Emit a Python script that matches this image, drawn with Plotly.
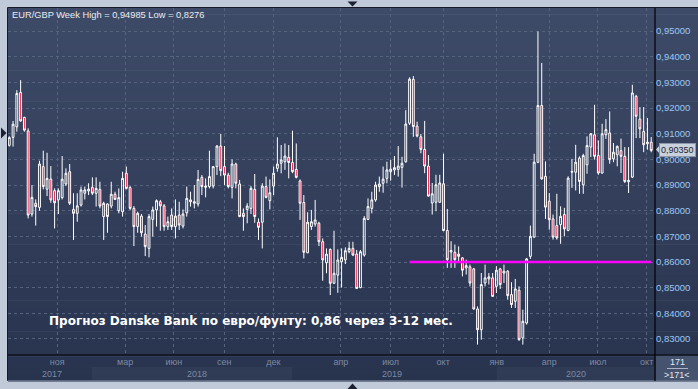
import plotly.graph_objects as go

# ---------------- data (weekly EUR/GBP candles) ----------------
opens = [0.9055, 0.9086, 0.9127, 0.9261, 0.9164, 0.9111, 0.8787, 0.8829, 0.8813, 0.8972,
         0.8884, 0.8923, 0.8878, 0.8842, 0.8851, 0.8904, 0.8952, 0.8805, 0.8790, 0.8822,
         0.8868, 0.8877, 0.8891, 0.8868, 0.8883, 0.8777, 0.8826, 0.8818, 0.8864, 0.8800,
         0.8796, 0.8946, 0.8890, 0.8809, 0.8738, 0.8779, 0.8709, 0.8653, 0.8766, 0.8803,
         0.8835, 0.8819, 0.8738, 0.8783, 0.8738, 0.8783, 0.8740, 0.8792, 0.8842, 0.8829,
         0.8826, 0.8930, 0.8891, 0.8894, 0.8896, 0.8972, 0.9052, 0.8972, 0.8939, 0.8891,
         0.8982,
         0.8904, 0.8790, 0.8805, 0.8809, 0.8883, 0.8755, 0.8755, 0.8894, 0.8839, 0.8896,
         0.8965, 0.8985, 0.8991, 0.9008, 0.8988, 0.8961, 0.8916, 0.8832, 0.8636, 0.8738,
         0.8748, 0.8751, 0.8679, 0.8597, 0.8649, 0.8517, 0.8549, 0.8601, 0.8608, 0.8640,
         0.8653, 0.8631, 0.8500, 0.8627, 0.8766, 0.8809, 0.8842, 0.8894, 0.8907, 0.8926,
         0.8952, 0.8959, 0.8961, 0.8969, 0.8991, 0.9141, 0.9312, 0.9130, 0.9088, 0.9039,
         0.8974,
         0.8830, 0.8833, 0.8833, 0.8905, 0.8723, 0.8639, 0.8638, 0.8631, 0.8616, 0.8577,
         0.8581, 0.8573, 0.8417, 0.8336, 0.8518, 0.8534, 0.8538, 0.8505, 0.8573, 0.8557,
         0.8564, 0.8473, 0.8447, 0.8490, 0.8304, 0.8362, 0.8622, 0.8697, 0.8989, 0.9210,
         0.8934, 0.8837, 0.8768, 0.8742, 0.8746, 0.8785, 0.8723, 0.8950, 0.8950, 0.9005,
         0.8901, 0.8979, 0.9048, 0.9096, 0.9015, 0.8947, 0.9096, 0.9103, 0.9002, 0.9018,
         0.9034, 0.9012, 0.8913, 0.8931, 0.9246, 0.9157, 0.9109, 0.9061, 0.9067]
highs = [0.9090, 0.9150, 0.9270, 0.9309, 0.9166, 0.9121, 0.8900, 0.8844, 0.8995, 0.9034,
         0.9026, 0.8974, 0.8887, 0.8887, 0.9013, 0.8965, 0.8982, 0.8868, 0.8868, 0.8894,
         0.8894, 0.8907, 0.8930, 0.8930, 0.8913, 0.8835, 0.8829, 0.8913, 0.8874, 0.8887,
         0.8952, 0.8972, 0.8896, 0.8818, 0.8796, 0.8787, 0.8744, 0.8787, 0.8816, 0.8844,
         0.8842, 0.8826, 0.8777, 0.8809, 0.8844, 0.8835, 0.8805, 0.8894, 0.8874, 0.8900,
         0.8959, 0.8939, 0.8926, 0.9034, 0.8974, 0.9056, 0.9099, 0.9052, 0.8948, 0.9000,
         0.8987,
         0.8920, 0.8809, 0.8829, 0.8896, 0.8943, 0.8770, 0.8907, 0.8933, 0.8922, 0.8972,
         0.9086, 0.9056, 0.9062, 0.9056, 0.9112, 0.9062, 0.8922, 0.8861, 0.8794, 0.8803,
         0.8842, 0.8757, 0.8692, 0.8653, 0.8653, 0.8722, 0.8649, 0.8653, 0.8657, 0.8679,
         0.8679, 0.8647, 0.8647, 0.8779, 0.8848, 0.8874, 0.8913, 0.8933, 0.8972, 0.8991,
         0.8998, 0.9013, 0.9052, 0.9010, 0.9192, 0.9320, 0.9325, 0.9147, 0.9099, 0.9150,
         0.9017,
         0.8908, 0.8940, 0.8940, 0.9022, 0.8807, 0.8681, 0.8668, 0.8661, 0.8619, 0.8609,
         0.8590, 0.8577, 0.8427, 0.8557, 0.8590, 0.8557, 0.8557, 0.8584, 0.8577, 0.8590,
         0.8568, 0.8521, 0.8534, 0.8505, 0.8414, 0.8616, 0.8742, 0.9022, 0.9499, 0.9376,
         0.8992, 0.8869, 0.8785, 0.8866, 0.8817, 0.8811, 0.8934, 0.9002, 0.9057, 0.9012,
         0.9022, 0.9090, 0.9103, 0.9213, 0.9074, 0.9139, 0.9157, 0.9187, 0.9064, 0.9054,
         0.9081, 0.9048, 0.9048, 0.9291, 0.9252, 0.9204, 0.9204, 0.9161, 0.9087]
lows = [0.9050, 0.9050, 0.9108, 0.9147, 0.9108, 0.8770, 0.8777, 0.8742, 0.8800, 0.8883,
        0.8857, 0.8831, 0.8731, 0.8787, 0.8844, 0.8896, 0.8822, 0.8686, 0.8757, 0.8816,
        0.8844, 0.8861, 0.8861, 0.8816, 0.8809, 0.8686, 0.8714, 0.8809, 0.8842, 0.8790,
        0.8777, 0.8883, 0.8803, 0.8662, 0.8714, 0.8699, 0.8623, 0.8618, 0.8699, 0.8738,
        0.8722, 0.8722, 0.8725, 0.8725, 0.8692, 0.8725, 0.8731, 0.8777, 0.8816, 0.8809,
        0.8816, 0.8861, 0.8852, 0.8887, 0.8887, 0.8939, 0.8935, 0.8900, 0.8887, 0.8848,
        0.8887,
        0.8775, 0.8722, 0.8751, 0.8787, 0.8753, 0.8686, 0.8653, 0.8848, 0.8805, 0.8861,
        0.8952, 0.8946, 0.8959, 0.8926, 0.8946, 0.8926, 0.8764, 0.8614, 0.8634, 0.8725,
        0.8738, 0.8662, 0.8527, 0.8556, 0.8471, 0.8514, 0.8480, 0.8500, 0.8592, 0.8634,
        0.8623, 0.8495, 0.8498, 0.8621, 0.8764, 0.8790, 0.8835, 0.8874, 0.8870, 0.8907,
        0.8917, 0.8939, 0.8933, 0.8890, 0.8987, 0.9134, 0.9088, 0.9086, 0.9024, 0.8946,
        0.8855,
        0.8785, 0.8798, 0.8830, 0.8720, 0.8577, 0.8577, 0.8577, 0.8599, 0.8544, 0.8551,
        0.8505, 0.8414, 0.8278, 0.8297, 0.8505, 0.8512, 0.8464, 0.8479, 0.8495, 0.8518,
        0.8453, 0.8421, 0.8421, 0.8293, 0.8278, 0.8356, 0.8612, 0.8694, 0.8985, 0.8921,
        0.8768, 0.8726, 0.8687, 0.8687, 0.8671, 0.8700, 0.8720, 0.8889, 0.8879, 0.8866,
        0.8866, 0.8944, 0.9009, 0.8999, 0.8940, 0.8944, 0.9080, 0.8983, 0.8989, 0.8973,
        0.8947, 0.8908, 0.8869, 0.8927, 0.9083, 0.9083, 0.9028, 0.9038, 0.9028]
closes = [0.9085, 0.9137, 0.9257, 0.9150, 0.9114, 0.8783, 0.8852, 0.8816, 0.8982, 0.8894,
          0.8926, 0.8842, 0.8831, 0.8878, 0.8923, 0.8946, 0.8829, 0.8790, 0.8819, 0.8881,
          0.8881, 0.8884, 0.8868, 0.8887, 0.8818, 0.8829, 0.8777, 0.8864, 0.8844, 0.8851,
          0.8926, 0.8887, 0.8809, 0.8738, 0.8790, 0.8714, 0.8660, 0.8777, 0.8803, 0.8839,
          0.8819, 0.8738, 0.8757, 0.8738, 0.8779, 0.8744, 0.8787, 0.8848, 0.8835, 0.8835,
          0.8922, 0.8894, 0.8896, 0.8933, 0.8972, 0.9052, 0.8956, 0.8939, 0.8894, 0.8982,
          0.8907,
          0.8777, 0.8777, 0.8818, 0.8887, 0.8777, 0.8735, 0.8896, 0.8852, 0.8870, 0.8946,
          0.8982, 0.8998, 0.9013, 0.8988, 0.8952, 0.8930, 0.8829, 0.8638, 0.8755, 0.8757,
          0.8764, 0.8679, 0.8608, 0.8631, 0.8517, 0.8556, 0.8608, 0.8618, 0.8644, 0.8653,
          0.8627, 0.8497, 0.8640, 0.8770, 0.8816, 0.8842, 0.8900, 0.8904, 0.8923, 0.8959,
          0.8962, 0.8968, 0.8974, 0.8985, 0.9138, 0.9313, 0.9128, 0.9091, 0.9039, 0.8974,
          0.8857,
          0.8866, 0.8901, 0.8908, 0.8723, 0.8609, 0.8645, 0.8609, 0.8622, 0.8568, 0.8586,
          0.8518, 0.8417, 0.8336, 0.8512, 0.8538, 0.8542, 0.8466, 0.8568, 0.8512, 0.8564,
          0.8469, 0.8434, 0.8495, 0.8297, 0.8369, 0.8612, 0.8700, 0.8989, 0.9210, 0.8924,
          0.8814, 0.8765, 0.8697, 0.8694, 0.8778, 0.8729, 0.8927, 0.8953, 0.8989, 0.8914,
          0.9015, 0.9054, 0.9100, 0.9012, 0.8947, 0.9100, 0.9116, 0.8999, 0.9028, 0.9051,
          0.9012, 0.8914, 0.8918, 0.9259, 0.9168, 0.9119, 0.9057, 0.9067, 0.9035]

month_ticks = [12.7, 30.7, 43.6, 56.9, 69.9, 87.8, 101.0, 114.9, 129.1, 143.0, 155.9, 168.8]
month_labels = ["ноя", "мар", "июн", "сен", "дек", "апр", "июл", "окт", "янв", "апр", "июл", "окт"]
year_labels = ["2017", "2018", "2019", "2020"]
year_centers = [11.3, 49.7, 101.4, 150.1]
year_bands = [(21.9, 74.9), (129.1, 171.0)]   # shaded years 2018 and 2020

price_ticks = [0.83, 0.84, 0.85, 0.86, 0.87, 0.88, 0.89, 0.90, 0.91, 0.92, 0.93, 0.94, 0.95]
target_level = 0.86
target_start = 106
last_price = 0.9035
bars_visible = 171
title_text = "EUR/GBP Week High = 0,94985 Low = 0,8276"
note_text = "Прогноз Danske Bank по евро/фунту: 0,86 через 3-12 мес."

# ---------------- layout geometry ----------------
W, H = 698, 389
ML, MR, MT, MB = 8, 43, 8, 34
PW, PH = W - ML - MR, H - MT - MB
XMIN, XMAX = -0.34, 171.0
YMIN, YMAX = 0.82374, 0.95903


def px(x):
    return (x - ML) / PW


def py(y):
    return (H - MB - y) / PH


def ix(i):
    return (i - XMIN) / (XMAX - XMIN)


def fmt(v, d=5):
    return f"{v:.{d}f}".replace(".", ",")


UI = "Liberation Sans"
x = list(range(len(opens)))

fig = go.Figure()
fig.add_trace(go.Candlestick(
    x=x, open=opens, high=highs, low=lows, close=closes,
    increasing=dict(line=dict(color="#ffffff", width=1), fillcolor="rgba(0,0,0,0)"),
    decreasing=dict(line=dict(color="#ffffff", width=1), fillcolor="#f0103c"),
    whiskerwidth=0, showlegend=False, name="EUR/GBP"))
fig.add_trace(go.Scatter(
    x=[target_start, x[-1]], y=[target_level, target_level], mode="lines",
    line=dict(color="#ff00ff", width=2.5), showlegend=False, hoverinfo="skip"))

shapes = []
# gradient background (plot + right panel + x-axis area)
N = 60
top_c, bot_c = (62, 75, 104), (40, 51, 78)
y_top, y_bot = 8, 381
for k in range(N):
    t = (k + 0.5) / N
    c = tuple(round(top_c[j] + (bot_c[j] - top_c[j]) * t) for j in range(3))
    ya = y_top + (y_bot - y_top) * k / N
    yb = y_top + (y_bot - y_top) * (k + 1) / N + 0.6
    shapes.append(dict(type="rect", xref="paper", yref="paper", layer="below",
                       x0=px(8), x1=px(W), y0=py(yb), y1=py(ya),
                       fillcolor=f"rgb{c}", line=dict(width=0)))
# year bands in the date row
for a, b in year_bands:
    shapes.append(dict(type="rect", xref="paper", yref="paper", layer="below",
                       x0=ix(a), x1=min(ix(b), 1.0), y0=py(380), y1=py(367),
                       fillcolor="rgba(255,255,255,0.035)", line=dict(width=0)))
# bottom-right counter box
shapes.append(dict(type="rect", xref="paper", yref="paper", layer="below",
                   x0=px(655.5), x1=px(W), y0=py(380.5), y1=py(355.5),
                   fillcolor="#45536f", line=dict(width=0)))
shapes.append(dict(type="line", xref="paper", yref="paper", x0=px(667), x1=px(688),
                   y0=py(368.5), y1=py(368.5), line=dict(color="#aab4c6", width=1)))
# frame lines
dark = "#151a24"
shapes += [
    dict(type="line", xref="paper", yref="paper", x0=px(7.5), x1=px(W), y0=py(7.5), y1=py(7.5),
         line=dict(color=dark, width=1)),
    dict(type="line", xref="paper", yref="paper", x0=px(7.5), x1=px(7.5), y0=py(381), y1=py(7.5),
         line=dict(color=dark, width=1)),
    dict(type="line", xref="paper", yref="paper", x0=px(7.5), x1=px(W), y0=py(380.5), y1=py(380.5),
         line=dict(color="#5d6a82", width=1)),
    dict(type="line", xref="paper", yref="paper", x0=px(8), x1=px(W), y0=py(355), y1=py(355),
         line=dict(color="#000000", width=1.2)),
    dict(type="line", xref="paper", yref="paper", x0=px(655), x1=px(655), y0=py(381), y1=py(8),
         line=dict(color="#000000", width=1.2)),
]


def tri(pts, color="#1b2130"):
    path = "M " + " L ".join(f"{px(a)},{py(b)}" for a, b in pts) + " Z"
    return dict(type="path", xref="paper", yref="paper", path=path,
                fillcolor=color, line=dict(width=0))


shapes.append(tri([(347.5, 1.5), (357.5, 1.5), (352.5, 6.5)]))
shapes.append(tri([(347.5, 389), (357.5, 389), (352.5, 383.5)]))
shapes.append(tri([(1, 127.5), (1, 138.5), (6.5, 133)]))
shapes.append(tri([(656, 149.5), (659.5, 145.5), (659.5, 153.5)], "#c9d1dd"))

annotations = [
    dict(text=title_text, xref="paper", yref="paper", x=px(10), y=py(15),
         xanchor="left", yanchor="middle", showarrow=False,
         font=dict(family=UI, size=9.3, color="#e8ecf4")),
    dict(text=f"<b>{note_text}</b>", xref="paper", yref="paper", x=px(47), y=py(321),
         xanchor="left", yanchor="middle", showarrow=False,
         font=dict(family="DejaVu Sans", size=12, color="#ffffff")),
    dict(text=fmt(last_price), xref="paper", yref="y", x=px(659.5), y=last_price,
         xanchor="left", yanchor="middle", showarrow=False, bgcolor="#c9d1dd",
         bordercolor="#8c97ab", borderwidth=1, borderpad=1,
         font=dict(family=UI, size=9, color="#1c2436")),
    dict(text=str(bars_visible), xref="paper", yref="paper", x=px(677), y=py(362),
         xanchor="center", yanchor="middle", showarrow=False,
         font=dict(family=UI, size=9, color="#e2e8f2")),
    dict(text=f">{bars_visible}<", xref="paper", yref="paper", x=px(677), y=py(374.5),
         xanchor="center", yanchor="middle", showarrow=False,
         font=dict(family=UI, size=9, color="#e2e8f2")),
]
for lab, pos in zip(year_labels, year_centers):
    annotations.append(dict(text=lab, xref="x", yref="paper", x=pos, y=py(373.5),
                            xanchor="center", yanchor="middle", showarrow=False,
                            font=dict(family=UI, size=9, color="#7b8aa4")))

grid = "#55637e"
fig.update_layout(
    width=W, height=H,
    margin=dict(l=ML, r=MR, t=MT, b=MB, pad=0),
    paper_bgcolor="#c0cad8", plot_bgcolor="rgba(0,0,0,0)",
    boxgap=0.3,
    showlegend=False,
    shapes=shapes, annotations=annotations,
    xaxis=dict(range=[XMIN, XMAX], tickmode="array", tickvals=month_ticks, ticktext=month_labels,
               showgrid=True, gridcolor=grid, griddash="3px,3px", gridwidth=1,
               ticks="", showline=False, zeroline=False, rangeslider=dict(visible=False),
               tickfont=dict(family=UI, size=9, color="#7b8aa4")),
    yaxis=dict(range=[YMIN, YMAX], side="right", tickmode="array", tickvals=price_ticks,
               ticktext=[fmt(v) for v in price_ticks],
               showgrid=True, gridcolor=grid, griddash="3px,3px", gridwidth=1,
               ticks="", showline=False, zeroline=False,
               tickfont=dict(family=UI, size=9.5, color="#9cc7f5")),
)

fig.write_html("out.html")
